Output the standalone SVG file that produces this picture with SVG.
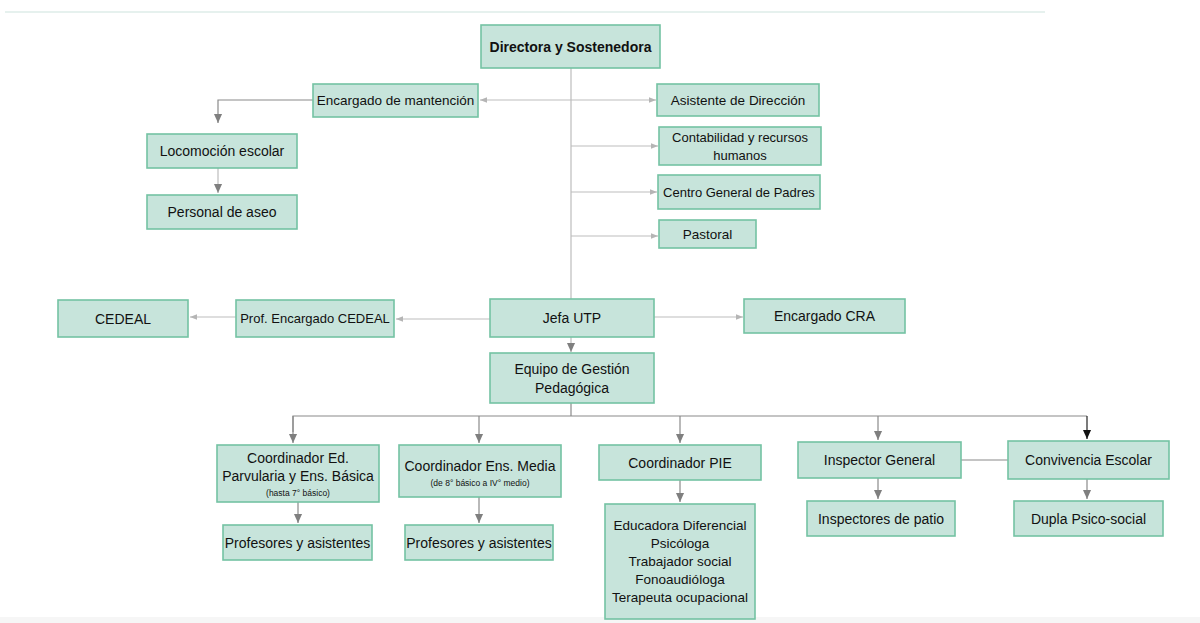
<svg xmlns="http://www.w3.org/2000/svg" width="1200" height="623" viewBox="0 0 1200 623">
<defs>
<style>
.b{fill:#c7e4db;stroke:#74c2a3;stroke-width:1.6}
.t{font-family:"Liberation Sans",Arial,sans-serif;font-size:14px;fill:#111;text-anchor:middle}
.n{font-size:13px}
.m{font-size:13.5px}
.s{font-family:"Liberation Sans",Arial,sans-serif;font-size:8.5px;fill:#111;text-anchor:middle}
.bold{font-weight:bold;font-size:14px}
.l{fill:none;stroke:#bdbdbd;stroke-width:1.2}
.d{fill:none;stroke:#8a8a8a;stroke-width:1.2}
.k{fill:none;stroke:#222;stroke-width:1.2}
</style>
<marker id="al" viewBox="0 0 10 10" refX="10" refY="5" markerWidth="7" markerHeight="7" orient="auto" markerUnits="userSpaceOnUse"><path d="M0,1 L10,5 L0,9 z" fill="#b5b5b5"/></marker>
<marker id="ad" viewBox="0 0 10 10" refX="10" refY="5" markerWidth="9" markerHeight="9" orient="auto" markerUnits="userSpaceOnUse"><path d="M0,0.5 L10,5 L0,9.5 z" fill="#7f7f7f"/></marker>
<marker id="ak" viewBox="0 0 10 10" refX="10" refY="5" markerWidth="9" markerHeight="9" orient="auto" markerUnits="userSpaceOnUse"><path d="M0,0.5 L10,5 L0,9.5 z" fill="#111"/></marker>
</defs>
<rect width="1200" height="623" fill="#fff"/>
<line x1="5" y1="12" x2="1045" y2="12" stroke="#deece8" stroke-width="1.5"/>
<rect x="0" y="617" width="1200" height="6" fill="#f6f6f6"/>

<g id="connectors">
<path class="l" d="M571,68 V299"/>
<path class="l" d="M571,100 H480" marker-end="url(#al)"/>
<path class="l" d="M571,100 H656" marker-end="url(#al)"/>
<path class="l" d="M571,146 H658" marker-end="url(#al)"/>
<path class="l" d="M571,192 H657" marker-end="url(#al)"/>
<path class="l" d="M571,236 H658" marker-end="url(#al)"/>
<path class="d" d="M313,100 H218 V123" marker-end="url(#ad)"/>
<path class="l" d="M218,168 V193" marker-end="url(#ad)"/>
<path class="l" d="M490,319 H396" marker-end="url(#al)"/>
<path class="l" d="M236,317 H190" marker-end="url(#al)"/>
<path class="l" d="M654,317 H743" marker-end="url(#al)"/>
<path class="l" d="M571,337 V352" marker-end="url(#ad)"/>
<path class="d" d="M571,403 V416"/>
<path class="d" d="M293,432 V416 H1087"/>
<path class="d" d="M293,416 V443" marker-end="url(#ad)"/>
<path class="d" d="M479,416 V443" marker-end="url(#ad)"/>
<path class="d" d="M680,416 V443" marker-end="url(#ad)"/>
<path class="d" d="M878,416 V440" marker-end="url(#ad)"/>
<path class="k" d="M1087,416 V439" marker-end="url(#ak)"/>
<path class="d" d="M298,502 V523" marker-end="url(#ad)"/>
<path class="d" d="M479,497 V523" marker-end="url(#ad)"/>
<path class="d" d="M680,480 V502" marker-end="url(#ad)"/>
<path class="d" d="M878,478 V499" marker-end="url(#ad)"/>
<path class="d" d="M1087,479 V499" marker-end="url(#ad)"/>
<path class="d" d="M961,460 H1008"/>
</g>

<g id="directora"><rect class="b" x="481" y="25" width="179" height="43" stroke-width="2.2"/><text class="t bold" x="570.5" y="52">Directora y Sostenedora</text></g>
<g id="mantencion"><rect class="b" x="313" y="84" width="165" height="33"/><text class="t m" x="395.5" y="105">Encargado de mantención</text></g>
<g id="asistente"><rect class="b" x="657" y="84" width="162" height="32"/><text class="t m" x="738" y="105">Asistente de Dirección</text></g>
<g id="contabilidad"><rect class="b" x="659" y="127" width="162" height="38"/><text class="t n" x="740" y="142">Contabilidad y recursos</text><text class="t n" x="740" y="160">humanos</text></g>
<g id="centro"><rect class="b" x="658" y="175" width="162" height="34"/><text class="t n" x="739" y="196.5">Centro General de Padres</text></g>
<g id="pastoral"><rect class="b" x="659" y="220" width="97" height="28"/><text class="t m" x="707.5" y="239">Pastoral</text></g>
<g id="locomocion"><rect class="b" x="147" y="134" width="150" height="34"/><text class="t" x="222" y="156">Locomoción escolar</text></g>
<g id="aseo"><rect class="b" x="147" y="195" width="150" height="34"/><text class="t" x="222" y="217">Personal de aseo</text></g>
<g id="cedeal"><rect class="b" x="58" y="300" width="130" height="37"/><text class="t" x="123" y="323.5">CEDEAL</text></g>
<g id="prof-cedeal"><rect class="b" x="236" y="300" width="158" height="37"/><text class="t n" x="315" y="323">Prof. Encargado CEDEAL</text></g>
<g id="jefa-utp"><rect class="b" x="490" y="299" width="164" height="38"/><text class="t" x="572" y="323">Jefa UTP</text></g>
<g id="cra"><rect class="b" x="744" y="299" width="161" height="34"/><text class="t" x="824.5" y="321">Encargado CRA</text></g>
<g id="equipo"><rect class="b" x="490" y="353" width="164" height="50"/><text class="t" x="572" y="374">Equipo de Gestión</text><text class="t" x="572" y="393">Pedagógica</text></g>
<g id="coord-basica"><rect class="b" x="217" y="445" width="162" height="57"/><text class="t" x="298" y="463">Coordinador Ed.</text><text class="t" x="298" y="481">Parvularia y Ens. Básica</text><text class="s" x="298" y="496">(hasta 7° básico)</text></g>
<g id="coord-media"><rect class="b" x="399" y="445" width="162" height="52"/><text class="t" x="480" y="471">Coordinador Ens. Media</text><text class="s" x="480" y="486">(de 8° básico a IV° medio)</text></g>
<g id="coord-pie"><rect class="b" x="599" y="445" width="162" height="35"/><text class="t" x="680" y="467.5">Coordinador PIE</text></g>
<g id="pie-equipo"><rect class="b" x="605" y="504" width="150" height="115"/><text class="t m" x="680" y="530">Educadora Diferencial</text><text class="t m" x="680" y="548">Psicóloga</text><text class="t m" x="680" y="566">Trabajador social</text><text class="t m" x="680" y="584">Fonoaudióloga</text><text class="t m" x="680" y="602">Terapeuta ocupacional</text></g>
<g id="inspector"><rect class="b" x="798" y="442" width="163" height="36"/><text class="t" x="879.5" y="465">Inspector General</text></g>
<g id="convivencia"><rect class="b" x="1008" y="441" width="161" height="38"/><text class="t" x="1088.5" y="465">Convivencia Escolar</text></g>
<g id="prof1"><rect class="b" x="223" y="525" width="149" height="35"/><text class="t" x="297.5" y="547.5">Profesores y asistentes</text></g>
<g id="prof2"><rect class="b" x="405" y="525" width="148" height="35"/><text class="t" x="479" y="547.5">Profesores y asistentes</text></g>
<g id="inspectores-patio"><rect class="b" x="807" y="501" width="148" height="35"/><text class="t" x="881" y="523.5">Inspectores de patio</text></g>
<g id="dupla"><rect class="b" x="1014" y="501" width="149" height="35"/><text class="t" x="1088.5" y="523.5">Dupla Psico-social</text></g>
</svg>
